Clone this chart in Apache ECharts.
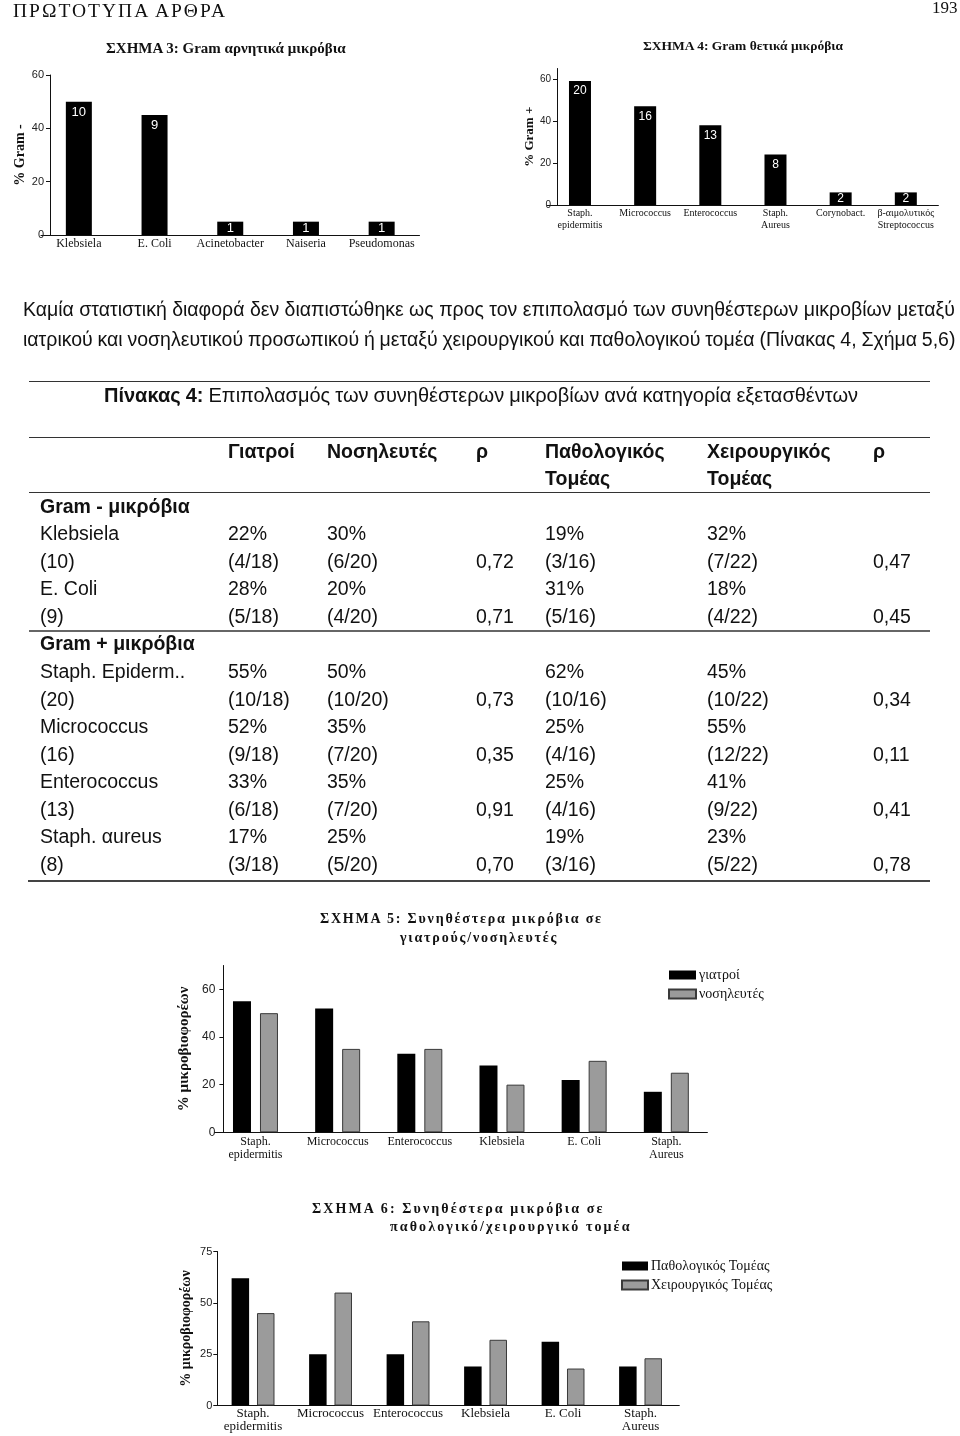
<!DOCTYPE html>
<html>
<head>
<meta charset="utf-8">
<script src="https://cdn.jsdelivr.net/npm/echarts@6/dist/echarts.min.js"></script>
<style>
html,body{margin:0;padding:0;background:#fff;}
#page{position:relative;width:960px;height:1436px;overflow:hidden;background:#fff;}
#chart{position:absolute;left:0;top:0;width:960px;height:1436px;}
#overlay{position:absolute;left:0;top:0;width:960px;height:1436px;pointer-events:none;font-family:"Liberation Sans",Arial,sans-serif;color:#111;}
.t{position:absolute;white-space:pre;line-height:24px;font-size:19.5px;}
.hr{position:absolute;height:0;}
.serif{font-family:"Liberation Serif","Times New Roman",serif;}
</style>
</head>
<body>
<div id="page"><div id="chart"></div><div id="overlay"></div></div>
<script>
// ---------- DATA ----------
const gramNegCategories = ['Klebsiela', 'E. Coli', 'Acinetobacter', 'Naiseria', 'Pseudomonas'];
const gramNegPercent = [50, 45, 5, 5, 5];
const gramNegCounts = [10, 9, 1, 1, 1];

const gramPosCategories = ['Staph.\nepidermitis', 'Micrococcus', 'Enterococcus', 'Staph.\nAureus', 'Corynobact.', 'β-αιμολυτικός\nStreptococcus'];
const gramPosPercent = [59, 47, 38, 24, 6, 6];
const gramPosCounts = [20, 16, 13, 8, 2, 2];

const carrierCategories = ['Staph.\nepidermitis', 'Micrococcus', 'Enterococcus', 'Klebsiela', 'E. Coli', 'Staph.\nAureus'];
const doctorsPercent = [55, 52, 33, 28, 22, 17];
const nursesPercent = [50, 35, 35, 20, 30, 25];
const medicalPercent = [62, 25, 25, 19, 31, 19];
const surgicalPercent = [45, 55, 41, 32, 18, 23];

const fig3Ticks = [0, 20, 40, 60];
const fig4Ticks = [0, 20, 40, 60];
const fig5Ticks = [0, 20, 40, 60];
const fig6Ticks = [0, 25, 50, 75];

const tableHeaders = ['Γιατροί', 'Νοσηλευτές', 'ρ', 'Παθολογικός\nΤομέας', 'Χειρουργικός\nΤομέας', 'ρ'];
const gramNegRows = [
  ['Klebsiela', '22%', '30%', '', '19%', '32%', ''],
  ['(10)', '(4/18)', '(6/20)', '0,72', '(3/16)', '(7/22)', '0,47'],
  ['E. Coli', '28%', '20%', '', '31%', '18%', ''],
  ['(9)', '(5/18)', '(4/20)', '0,71', '(5/16)', '(4/22)', '0,45']
];
const gramPosRows = [
  ['Staph. Epiderm..', '55%', '50%', '', '62%', '45%', ''],
  ['(20)', '(10/18)', '(10/20)', '0,73', '(10/16)', '(10/22)', '0,34'],
  ['Micrococcus', '52%', '35%', '', '25%', '55%', ''],
  ['(16)', '(9/18)', '(7/20)', '0,35', '(4/16)', '(12/22)', '0,11'],
  ['Enterococcus', '33%', '35%', '', '25%', '41%', ''],
  ['(13)', '(6/18)', '(7/20)', '0,91', '(4/16)', '(9/22)', '0,41'],
  ['Staph. αureus', '17%', '25%', '', '19%', '23%', ''],
  ['(8)', '(3/18)', '(5/20)', '0,70', '(3/16)', '(5/22)', '0,78']
];

const paragraphLines = [
  'Καμία στατιστική διαφορά δεν διαπιστώθηκε ως προς τον επιπολασμό των συνηθέστερων μικροβίων μεταξύ',
  'ιατρικού και νοσηλευτικού προσωπικού ή μεταξύ χειρουργικού και παθολογικού τομέα (Πίνακας 4, Σχήμα 5,6)'
];

// ---------- OVERLAY TEXT ----------
const ov = document.getElementById('overlay');
function addText(txt, x, yc, o) {
  o = o || {};
  const d = document.createElement('div');
  d.className = 't' + (o.serif ? ' serif' : '');
  d.textContent = txt;
  const fs = o.size || 19.5;
  const lh = o.lh || 24;
  d.style.fontSize = fs + 'px';
  d.style.lineHeight = lh + 'px';
  d.style.top = (yc - lh / 2) + 'px';
  if (o.bold) d.style.fontWeight = 'bold';
  if (o.ls != null) d.style.letterSpacing = o.ls + 'px';
  if (o.color) d.style.color = o.color;
  ov.appendChild(d);
  if (o.align === 'center') d.style.left = (x - d.offsetWidth / 2) + 'px';
  else if (o.align === 'right') d.style.left = (x - d.offsetWidth) + 'px';
  else d.style.left = x + 'px';
  return d;
}
function fitWords(d, width) {
  const spaces = (d.textContent.match(/ /g) || []).length;
  const w = d.offsetWidth;
  d.style.wordSpacing = ((width - w) / spaces) + 'px';
}
function addLine(x1, x2, y, w, c) {
  const d = document.createElement('div');
  d.className = 'hr';
  d.style.left = x1 + 'px';
  d.style.width = (x2 - x1) + 'px';
  d.style.top = (y - w / 2) + 'px';
  d.style.borderTop = w + 'px solid ' + c;
  ov.appendChild(d);
}

// page header
addText('ΠΡΩΤΟΤΥΠΑ ΑΡΘΡΑ', 13, 11, {serif: true, size: 19.5, ls: 2});
addText('193', 958, 8, {serif: true, size: 17, align: 'right'});

// figure titles
addText('ΣΧΗΜΑ 3: Gram αρνητικά μικρόβια', 226, 48, {serif: true, bold: true, size: 15, align: 'center'});
addText('ΣΧΗΜΑ 4: Gram θετικά μικρόβια', 743, 46, {serif: true, bold: true, size: 13.5, align: 'center'});
addText('ΣΧΗΜΑ 5: Συνηθέστερα μικρόβια σε', 320, 919, {serif: true, bold: true, size: 14, ls: 1.8});
addText('γιατρούς/νοσηλευτές', 400, 938, {serif: true, bold: true, size: 14, ls: 1.8});
addText('ΣΧΗΜΑ 6: Συνηθέστερα μικρόβια σε', 312, 1209, {serif: true, bold: true, size: 14, ls: 2.1});
addText('παθολογικό/χειρουργικό τομέα', 390, 1227, {serif: true, bold: true, size: 14, ls: 2.1});

// paragraph
fitWords(addText(paragraphLines[0], 23, 309, {size: 19.5}), 932);
fitWords(addText(paragraphLines[1], 23, 339, {size: 19.5}), 932);

// table
addLine(29, 930, 382, 1.5, '#333');
const cap = addText('', 104, 395, {size: 20});
cap.innerHTML = '<b>Πίνακας 4:</b> Επιπολασμός των συνηθέστερων μικροβίων ανά κατηγορία εξετασθέντων';
fitWords(cap, 754);
addLine(29, 930, 438, 1.5, '#333');
const colX = [40, 228, 327, 476, 545, 707, 873];
tableHeaders.forEach((h, i) => {
  const parts = h.split('\n');
  addText(parts[0], colX[i + 1], 451, {bold: true});
  if (parts[1]) addText(parts[1], colX[i + 1], 478, {bold: true});
});
addLine(29, 930, 493, 1.5, '#333');
addText('Gram - μικρόβια', 40, 506, {bold: true});
gramNegRows.forEach((row, r) => {
  row.forEach((cell, c) => { if (cell) addText(cell, colX[c], 533 + r * 27.5); });
});
addLine(29, 930, 631, 2.5, '#666');
addText('Gram + μικρόβια', 40, 643, {bold: true});
gramPosRows.forEach((row, r) => {
  row.forEach((cell, c) => { if (cell) addText(cell, colX[c], 671 + r * 27.5); });
});
addLine(28, 930, 881, 2, '#444');

// ---------- CHART ----------
const SERIF = '"Liberation Serif","Times New Roman",serif';
const SANS = '"Liberation Sans",Arial,sans-serif';

function xAx(gridIndex, cats, fontSize, lineHeight, margin) {
  return {
    type: 'category', gridIndex: gridIndex, data: cats,
    axisLine: {show: true, lineStyle: {color: '#111', width: 1}},
    axisTick: {show: false},
    axisLabel: {interval: 0, color: '#111', fontFamily: SERIF, fontSize: fontSize, lineHeight: lineHeight, margin: margin}
  };
}
function yAx(gridIndex, max, interval, ticks, name, nameSize, nameGap, labelSize, offset, margin) {
  return {
    type: 'value', gridIndex: gridIndex, min: 0, max: max, interval: interval, offset: offset,
    name: name, nameLocation: 'middle', nameRotate: 90, nameGap: nameGap,
    nameTextStyle: {fontFamily: SERIF, fontWeight: 'bold', fontSize: nameSize, color: '#111'},
    axisLine: {show: true, lineStyle: {color: '#111', width: 1}},
    axisTick: {show: true, length: 4, inside: false, customValues: ticks, lineStyle: {color: '#111'}},
    axisLabel: {customValues: ticks, color: '#222', fontFamily: SANS, fontSize: labelSize, margin: margin},
    splitLine: {show: false}
  };
}
function countBars(values, counts, xi, width, fontSize) {
  return {
    type: 'bar', xAxisIndex: xi, yAxisIndex: xi, barWidth: width,
    itemStyle: {color: '#000'},
    data: values.map((v) => ({
      value: v,
      label: {position: v < 10 ? 'inside' : 'insideTop'}
    })),
    label: {
      show: true, position: 'insideTop', distance: 4, color: '#fff',
      fontFamily: SANS, fontSize: fontSize,
      formatter: p => String(counts[p.dataIndex])
    },
    silent: true, animation: false
  };
}
function pairBar(name, values, xi, width, gap, color) {
  return {
    type: 'bar', name: name, xAxisIndex: xi, yAxisIndex: xi, data: values,
    barWidth: width, barGap: gap,
    itemStyle: color === 'black' ? {color: '#000'} : {color: '#9b9b9b', borderColor: '#3a3a3a', borderWidth: 1},
    silent: true, animation: false
  };
}

const chart = echarts.init(document.getElementById('chart'), null, {renderer: 'canvas'});
const option = {
  backgroundColor: 'transparent',
  animation: false,
  grid: [
    {left: 41, top: 75, width: 378.5, height: 160},
    {left: 547.4, top: 68.5, width: 391, height: 136.5},
    {left: 214.4, top: 965.5, width: 493, height: 166.8},
    {left: 214.3, top: 1251.5, width: 465, height: 154}
  ],
  xAxis: [
    xAx(0, gramNegCategories, 12, 14, 2),
    xAx(1, gramPosCategories, 10, 12, 2),
    xAx(2, carrierCategories, 12, 13, 3),
    xAx(3, carrierCategories, 13, 13, 2)
  ],
  yAxis: [
    yAx(0, 60, 20, fig3Ticks, '% Gram -', 14, 20.5, 11, -9, 6),
    yAx(1, 65, 20, fig4Ticks, '% Gram +', 13, 20.5, 10, -9.6, 6),
    yAx(2, 70, 20, fig5Ticks, '% μικροβιοφορέων', 15, 29.8, 12, -9, 8),
    yAx(3, 75, 25, fig6Ticks, '% μικροβιοφορέων', 14, 24, 11, -3, 5)
  ],
  legend: [
    {
      data: ['γιατροί', 'νοσηλευτές'], orient: 'vertical', left: 668, top: 968,
      itemWidth: 27, itemHeight: 9, itemGap: 5, padding: 0, icon: 'rect',
      textStyle: {fontFamily: SERIF, fontSize: 14, color: '#111', padding: [0, 0, 0, -2]}, selectedMode: false
    },
    {
      data: ['Παθολογικός Τομέας', 'Χειρουργικός Τομέας'], orient: 'vertical', left: 621, top: 1259,
      itemWidth: 26, itemHeight: 9, itemGap: 5, padding: 0, icon: 'rect',
      textStyle: {fontFamily: SERIF, fontSize: 14, color: '#111', padding: [0, 0, 0, -2]}, selectedMode: false
    }
  ],
  series: [
    countBars(gramNegPercent, gramNegCounts, 0, 26, 13),
    countBars(gramPosPercent, gramPosCounts, 1, 22, 12),
    pairBar('γιατροί', doctorsPercent, 2, 18, '50%', 'black'),
    pairBar('νοσηλευτές', nursesPercent, 2, 18, '50%', 'grey'),
    pairBar('Παθολογικός Τομέας', medicalPercent, 3, 17.5, '45%', 'black'),
    pairBar('Χειρουργικός Τομέας', surgicalPercent, 3, 17.5, '45%', 'grey')
  ]
};
chart.setOption(option);
</script>
</body>
</html>
